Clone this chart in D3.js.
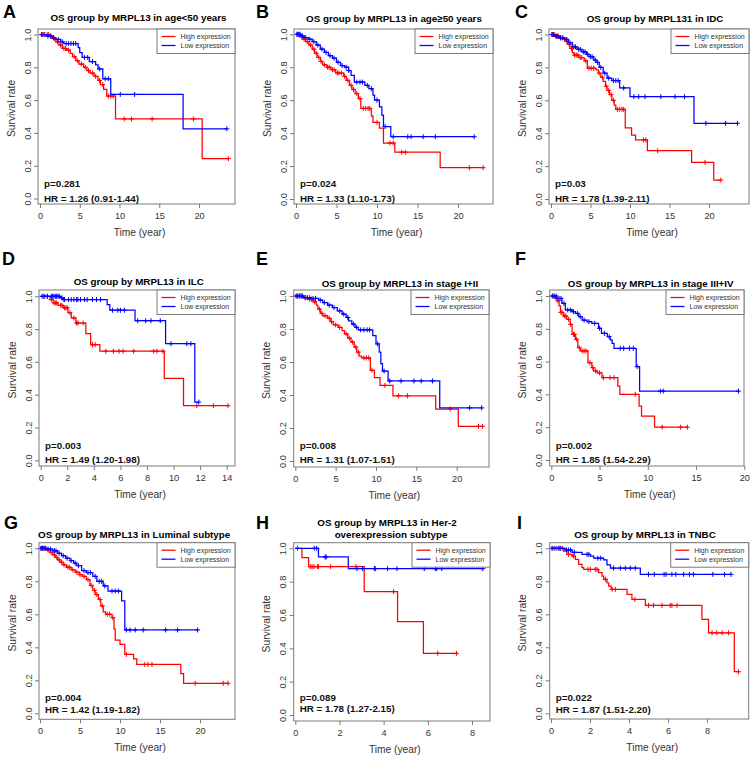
<!DOCTYPE html>
<html><head><meta charset="utf-8">
<script src="https://cdn.jsdelivr.net/npm/d3@7"></script>
<style>
body{margin:0;background:#fff}
svg{display:block}
text{font-family:"Liberation Sans",Arial,Helvetica,sans-serif}
</style>
</head><body>
<svg id="chart" width="753" height="758"></svg>
<script>
// ---------------- DATA ----------------
const panelLetters = ["A","B","C","D","E","F","G","H","I"];
const panelTitles = [
  ["OS group by MRPL13 in age<50 years"],
  ["OS group by MRPL13 in age\u226550 years"],
  ["OS group by MRPL131 in IDC"],
  ["OS group by MRPL13 in ILC"],
  ["OS group by MRPL13 in stage I+II"],
  ["OS group by MRPL13 in stage III+IV"],
  ["OS group by MRPL13 in Luminal subtype"],
  ["OS group by MRPL13 in Her-2","overexpression subtype"],
  ["OS group by MRPL13 in TNBC"]
];
const pLabels = ["p=0.281","p=0.024","p=0.03","p=0.003","p=0.008","p=0.002","p=0.004","p=0.089","p=0.022"];
const hrLabels = ["HR = 1.26 (0.91-1.44)","HR = 1.33 (1.10-1.73)","HR = 1.78 (1.39-2.11)",
  "HR = 1.49 (1.20-1.98)","HR = 1.31 (1.07-1.51)","HR = 1.85 (1.54-2.29)",
  "HR = 1.42 (1.19-1.82)","HR = 1.78 (1.27-2.15)","HR = 1.87 (1.51-2.20)"];
const legendLabels = ["High expression","Low expression"];
const yTickValues = [0,0.2,0.4,0.6,0.8,1.0];
const xTicks20 = [0,5,10,15,20];
const xTicks14 = [0,2,4,6,8,10,12,14];
const xTicks8 = [0,2,4,6,8];
const xAxisTitle = "Time (year)";
const yAxisTitle = "Survival rate";

// Kaplan-Meier steps: [time, survival] ; censor times
const aHighSteps = [[0,1],[1.2,0.99],[1.6,0.975],[2.0,0.955],[2.4,0.935],[2.8,0.915],[3.3,0.905],[3.8,0.885],[4.1,0.865],[4.5,0.84],[4.9,0.82],[5.5,0.80],[5.9,0.78],[6.3,0.765],[6.8,0.745],[7.3,0.72],[7.6,0.695],[8.0,0.665],[8.4,0.625],[9.5,0.485],[20.4,0.243]];
const aHighCens = [0.3,0.6,0.9,1.1,1.4,1.8,2.2,2.6,3.0,3.2,3.6,4.3,4.7,5.2,5.7,6.1,6.6,7.0,7.5,7.9,8.6,8.9,9.2,10.6,11.5,14.1,19.3,23.7];
const aLowSteps = [[0,1],[0.8,0.99],[1.5,0.98],[2.0,0.97],[2.6,0.955],[3.0,0.945],[4.8,0.92],[5.0,0.89],[5.3,0.86],[6.2,0.835],[7.0,0.815],[7.3,0.79],[7.9,0.73],[8.9,0.635],[18.0,0.425]];
const aLowCens = [0.2,0.5,1.0,1.3,1.7,2.3,2.8,3.3,3.6,3.9,4.2,4.5,5.6,6.0,6.6,7.5,8.2,8.6,10.1,11.9,23.5];

const bHighSteps = [[0,1],[0.5,0.985],[0.9,0.97],[1.2,0.955],[1.6,0.935],[2.0,0.91],[2.3,0.885],[2.6,0.86],[3.0,0.835],[3.3,0.815],[3.8,0.80],[4.3,0.785],[4.9,0.765],[5.9,0.745],[6.2,0.72],[6.6,0.69],[6.9,0.665],[7.3,0.64],[7.7,0.61],[8.0,0.55],[9.3,0.505],[9.5,0.465],[10.3,0.43],[10.8,0.34],[12.2,0.284],[17.8,0.19]];
const bHighCens = [0.2,0.4,0.7,1.0,1.4,1.8,2.2,2.5,2.8,3.1,3.5,3.9,4.1,4.5,4.7,5.1,5.3,5.6,6.0,6.4,6.8,7.1,7.5,7.9,8.3,8.6,8.9,9.1,10.0,11.6,12.0,13.05,13.5,21.4,23.1];
const bLowSteps = [[0,1],[0.6,0.99],[1.0,0.98],[1.5,0.97],[2.0,0.955],[2.5,0.935],[3.0,0.91],[3.5,0.89],[4.0,0.87],[4.5,0.855],[5.0,0.83],[5.5,0.81],[6.0,0.80],[6.5,0.78],[6.8,0.75],[7.2,0.71],[8.5,0.69],[9.0,0.67],[9.5,0.63],[9.7,0.60],[10.3,0.56],[10.6,0.51],[10.8,0.44],[11.7,0.378]];
const bLowCens = [0.1,0.3,0.5,0.8,1.2,1.7,2.2,2.7,3.2,3.7,4.2,4.7,5.2,5.7,6.2,6.5,7.5,7.9,8.2,8.8,9.3,10.0,11.0,12.0,13.8,14.2,15.7,17.2,22.0];

const cHighSteps = [[0,1],[0.5,0.99],[1.0,0.98],[1.5,0.97],[1.8,0.96],[2.1,0.94],[2.4,0.915],[2.7,0.89],[2.9,0.875],[3.5,0.86],[4.2,0.84],[4.6,0.795],[5.7,0.785],[6.0,0.765],[6.3,0.74],[6.6,0.715],[6.9,0.685],[7.1,0.66],[7.4,0.635],[7.7,0.60],[8.0,0.57],[8.2,0.545],[9.4,0.433],[10.2,0.389],[10.7,0.359],[12.2,0.294],[17.8,0.223],[20.6,0.115]];
const cHighCens = [0.2,0.4,0.7,0.9,1.2,1.4,1.7,2.0,2.3,2.6,3.0,3.2,3.4,3.7,3.9,4.4,4.8,5.1,5.4,6.1,6.5,7.0,7.3,7.6,7.9,8.4,8.7,9.0,9.2,11.7,12.0,13.5,19.5,21.5];
const cLowSteps = [[0,1],[0.5,0.99],[1.0,0.98],[1.8,0.97],[2.2,0.95],[2.7,0.925],[3.3,0.91],[3.9,0.895],[4.5,0.88],[4.8,0.865],[5.4,0.845],[5.7,0.83],[6.1,0.80],[6.6,0.765],[7.1,0.735],[7.7,0.72],[8.7,0.675],[10.0,0.622],[18.1,0.46]];
const cLowCens = [0.1,0.3,0.6,0.8,1.2,1.5,2.0,2.4,2.9,3.1,3.5,3.7,4.1,4.3,4.6,5.0,5.2,5.6,5.9,6.3,6.8,7.3,7.9,8.2,8.5,9.2,10.5,11.1,11.9,13.9,15.7,16.9,19.6,22.1,23.6];

const dHighSteps = [[0,1],[0.7,0.98],[0.95,0.96],[1.3,0.945],[1.7,0.93],[2.05,0.9],[2.3,0.868],[2.65,0.837],[3.4,0.772],[3.76,0.705],[4.45,0.665],[9.3,0.50],[10.75,0.333]];
const dHighCens = [0.2,0.5,0.8,1.0,1.1,1.2,1.5,1.6,1.8,1.9,2.0,2.2,2.5,2.7,2.8,3.2,3.9,4.1,4.9,5.47,5.9,6.2,7.0,8.5,8.75,9.2,11.75,13.0,14.1];
const dLowSteps = [[0,1],[1.5,0.99],[1.7,0.98],[5.0,0.95],[5.2,0.915],[7.1,0.851],[9.4,0.711],[11.6,0.355]];
const dLowCens = [0.1,0.3,0.5,0.8,0.9,1.0,1.1,1.2,1.3,1.4,1.6,1.75,1.8,2.1,2.3,2.5,2.7,2.8,3.0,3.3,3.5,3.9,4.2,4.5,5.4,5.8,6.0,6.3,7.3,7.9,8.3,9.0,9.8,11.0,11.3,11.9];

const eHighSteps = [[0,1],[1.0,0.99],[1.6,0.98],[2.2,0.965],[2.6,0.945],[2.8,0.92],[3.1,0.895],[3.4,0.88],[4.0,0.865],[4.4,0.845],[4.7,0.825],[5.3,0.81],[5.8,0.79],[6.1,0.77],[6.5,0.745],[6.9,0.72],[7.3,0.69],[7.6,0.66],[7.9,0.635],[8.2,0.625],[9.3,0.55],[9.8,0.505],[10.5,0.458],[12.1,0.395],[17.4,0.315],[20.2,0.21]];
const eHighCens = [0.2,0.5,0.8,1.3,1.8,2.0,2.4,3.0,3.3,3.7,4.2,4.5,5.0,5.5,6.3,6.7,7.1,7.5,7.8,8.5,8.8,9.1,9.5,11.1,12.8,13.9,19.2,22.7,23.2];
const eLowSteps = [[0,1],[1.0,0.99],[2.0,0.985],[2.9,0.975],[3.4,0.96],[4.0,0.945],[4.6,0.93],[5.2,0.91],[5.8,0.89],[6.3,0.87],[6.6,0.85],[7.0,0.83],[7.4,0.81],[7.8,0.795],[9.6,0.76],[10.0,0.71],[10.4,0.66],[10.6,0.59],[10.8,0.545],[11.5,0.485],[17.9,0.322]];
const eLowCens = [0.1,0.3,0.5,0.7,0.9,1.2,1.5,1.8,2.2,2.5,3.1,3.6,4.2,4.8,5.5,6.0,6.5,7.2,7.6,8.1,8.5,8.9,9.2,10.2,11.0,11.7,13.1,14.7,15.6,17.0,21.6,23.1];

const fHighSteps = [[0,1],[0.4,0.985],[0.6,0.97],[0.8,0.94],[0.95,0.9],[1.25,0.878],[1.6,0.858],[1.95,0.827],[2.15,0.766],[2.5,0.736],[2.75,0.685],[3.0,0.665],[3.8,0.593],[4.2,0.563],[4.4,0.543],[4.75,0.532],[5.25,0.502],[6.9,0.451],[7.1,0.40],[9.1,0.329],[9.35,0.268],[10.7,0.20]];
const fHighCens = [0.2,0.5,0.7,1.0,1.1,1.4,1.5,1.8,2.0,2.3,2.4,2.6,2.9,3.2,3.4,3.6,4.0,4.3,4.6,5.0,5.4,6.1,6.5,8.7,11.5,13.4,14.1];
const fLowSteps = [[0,1],[0.6,0.985],[1.1,0.955],[1.45,0.915],[2.15,0.904],[2.5,0.894],[2.85,0.874],[3.2,0.853],[3.7,0.843],[4.2,0.833],[4.9,0.803],[5.2,0.772],[5.8,0.752],[6.1,0.732],[6.3,0.711],[6.5,0.681],[8.8,0.569],[9.15,0.42]];
const fLowCens = [0.1,0.3,0.5,0.8,1.0,1.3,1.7,2.0,2.3,2.7,3.0,3.4,3.9,4.5,5.0,5.5,6.0,7.15,7.5,8.1,8.5,8.9,11.3,11.6,19.4];

const gHighSteps = [[0,1],[0.8,0.99],[1.25,0.975],[1.6,0.96],[1.9,0.945],[2.2,0.93],[2.5,0.915],[2.9,0.9],[3.3,0.885],[3.9,0.87],[4.4,0.855],[4.9,0.84],[5.3,0.83],[5.8,0.81],[6.25,0.775],[6.6,0.745],[6.9,0.72],[7.3,0.69],[7.6,0.65],[7.9,0.615],[8.2,0.60],[9.0,0.58],[9.25,0.51],[9.4,0.444],[10.0,0.418],[10.6,0.357],[11.7,0.33],[12.1,0.296],[17.6,0.24],[17.95,0.182]];
const gHighCens = [0.2,0.4,0.6,1.0,1.4,1.8,2.1,2.4,2.7,3.0,3.5,3.7,4.1,4.6,5.0,5.5,6.0,6.4,6.8,7.1,7.5,7.8,8.4,8.7,9.1,10.8,13.1,13.5,14.0,19.4,22.9,23.5];
const gLowSteps = [[0,1],[0.8,0.995],[1.6,0.985],[2.2,0.97],[2.7,0.955],[3.2,0.94],[3.75,0.925],[4.2,0.91],[4.6,0.895],[5.2,0.865],[5.8,0.853],[6.6,0.83],[7.1,0.80],[7.9,0.772],[8.5,0.741],[10.2,0.681],[10.6,0.505]];
const gLowCens = [0.1,0.3,0.5,0.7,1.0,1.3,1.8,2.0,2.4,2.9,3.4,3.9,4.4,4.8,5.5,6.0,6.3,6.9,7.4,7.7,8.1,9.0,9.4,9.8,10.8,11.25,11.9,12.9,15.7,17.2,19.7];

const hHighSteps = [[0,1],[0.3,0.944],[0.6,0.89],[3.12,0.74],[4.63,0.56],[5.8,0.37]];
const hHighCens = [0.1,0.68,0.76,0.85,1.0,1.05,1.6,2.75,4.45,6.45,7.3];
const hLowSteps = [[0,1],[1.05,0.948],[2.4,0.878]];
const hLowCens = [0.86,0.97,1.35,1.4,2.79,3.05,3.58,3.62,4.18,4.6,5.84,6.34,6.4,6.63,8.49];

const iHighSteps = [[0,1],[0.65,0.983],[0.82,0.963],[1.08,0.953],[1.25,0.933],[1.42,0.903],[1.59,0.883],[1.68,0.872],[2.44,0.852],[2.62,0.832],[2.7,0.812],[2.87,0.791],[2.96,0.771],[3.08,0.751],[3.9,0.721],[4.15,0.69],[4.84,0.654],[7.74,0.57],[8.08,0.488],[9.4,0.252]];
const iHighCens = [0.1,0.3,0.45,0.6,0.9,1.15,1.9,2.02,2.27,2.36,2.79,3.14,3.3,4.3,5.0,5.26,5.69,6.11,6.2,6.46,8.26,8.5,8.77,9.1,9.62];
const iLowSteps = [[0,1],[0.73,0.99],[1.08,0.976],[1.59,0.963],[2.02,0.952],[2.19,0.94],[2.7,0.93],[2.87,0.90],[3.05,0.88],[4.58,0.842]];
const iLowCens = [0.05,0.2,0.4,0.5,0.8,0.9,1.0,1.2,1.85,1.94,2.4,2.55,3.21,3.56,3.81,4.07,4.32,5.0,5.3,5.8,5.9,6.2,6.4,6.8,7.1,7.3,8.3,8.9,9.23];

const highSeries = [[aHighSteps,aHighCens],[bHighSteps,bHighCens],[cHighSteps,cHighCens],[dHighSteps,dHighCens],[eHighSteps,eHighCens],[fHighSteps,fHighCens],[gHighSteps,gHighCens],[hHighSteps,hHighCens],[iHighSteps,iHighCens]];
const lowSeries = [[aLowSteps,aLowCens],[bLowSteps,bLowCens],[cLowSteps,cLowCens],[dLowSteps,dLowCens],[eLowSteps,eLowCens],[fLowSteps,fLowCens],[gLowSteps,gLowCens],[hLowSteps,hLowCens],[iLowSteps,iLowCens]];
const panelXTicks = [xTicks20,xTicks20,xTicks20,xTicks14,xTicks20,xTicks20,xTicks20,xTicks8,xTicks8];

// ---------------- LAYOUT (pixel geometry per panel) ----------------
// box: l,r,t,b ; xr: [refValue, px at 0, px at refValue]; yr: [px at 0, px at 1]
const layout = [
  {l:38,r:235,t:29,b:204, xr:[20,40,199], yr:[198.5,34.5], letter:[3,18], title:[138.5,20.5], p:[186.8,202.2]},
  {l:294,r:493,t:29,b:204, xr:[20,296,458], yr:[199,34.3], letter:[256,18], title:[394,22], p:[186.5,202.2]},
  {l:549,r:749,t:29,b:204, xr:[20,551,709], yr:[199,34.5], letter:[515,18], title:[655,22], p:[186.5,202.2]},
  {l:39,r:235,t:290,b:466, xr:[14,40.7,226.7], yr:[460.3,296.3], letter:[2,265], title:[138.7,285], p:[449.2,462.5]},
  {l:293.7,r:489,t:290,b:467, xr:[20,295.3,456.7], yr:[461,296], letter:[256,265], title:[400,287], p:[448.8,463.2]},
  {l:549.7,r:744,t:290,b:466, xr:[20,551.3,744.3], yr:[460,296], letter:[515,265], title:[650.7,287], p:[448.8,463.2]},
  {l:39,r:235,t:542.7,b:719.3, xr:[20,40,200], yr:[713.3,548.3], letter:[4,529], title:[134.2,538], p:[701.2,712.8]},
  {l:293.7,r:490,t:542.7,b:721, xr:[8,295.3,472], yr:[715,548.3], letter:[256,529], title:[387,526], p:[701.2,712.2]},
  {l:549.7,r:748.7,t:542.7,b:719, xr:[8,551,707], yr:[713.3,548.3], letter:[517,529], title:[645,538], p:[701.2,712.8]}
];

const RED = "#ff0000", BLUE = "#0000ff", AXIS = "#7a7a7a", TXT = "#333333";

const svg = d3.select("#chart");
svg.append("rect").attr("width",753).attr("height",758).attr("fill","#fff");

function survAt(steps, t){
  let s = 1;
  for (const [st, sv] of steps){ if (st <= t) s = sv; else break; }
  return s;
}

layout.forEach((L, i) => {
  const g = svg.append("g");
  const x = d3.scaleLinear().domain([0, L.xr[0]]).range([L.xr[1], L.xr[2]]);
  const y = d3.scaleLinear().domain([0, 1]).range([L.yr[0], L.yr[1]]);

  // letter
  g.append("text").attr("x", L.letter[0]).attr("y", L.letter[1])
    .attr("font-size", 18).attr("font-weight", "bold").attr("fill", "#000")
    .text(panelLetters[i]);

  // title
  const tl = panelTitles[i];
  tl.forEach((line, k) => {
    g.append("text").attr("x", L.title[0] + (tl.length > 1 && k === 1 ? 4 : 0))
      .attr("y", L.title[1] + k * 12)
      .attr("text-anchor", "middle").attr("font-size", 9.8).attr("font-weight", "bold")
      .attr("fill", "#000").text(line);
  });

  // curves
  const line = d3.line().x(d => x(d[0])).y(d => y(d[1])).curve(d3.curveStepAfter);
  [[highSeries[i], RED], [lowSeries[i], BLUE]].forEach(([ser, col]) => {
    const steps = ser[0], cens = ser[1];
    const end = Math.max(d3.max(cens), steps[steps.length - 1][0]);
    const pts = steps.concat([[end, steps[steps.length - 1][1]]]);
    g.append("path").attr("d", line(pts)).attr("fill", "none")
      .attr("stroke", col).attr("stroke-width", 1.25);
    const cp = d3.path();
    cens.forEach(c => {
      const cx = x(c), cy = y(survAt(steps, c));
      cp.moveTo(cx - 2.5, cy); cp.lineTo(cx + 2.5, cy);
      cp.moveTo(cx, cy - 2.5); cp.lineTo(cx, cy + 2.5);
    });
    g.append("path").attr("d", cp.toString()).attr("fill", "none")
      .attr("stroke", col).attr("stroke-width", 1);
  });

  // box
  g.append("rect").attr("x", L.l).attr("y", L.t).attr("width", L.r - L.l).attr("height", L.b - L.t)
    .attr("fill", "none").attr("stroke", AXIS).attr("stroke-width", 1);

  // x axis
  const xa = g.append("g").attr("transform", `translate(0,${L.b})`)
    .call(d3.axisBottom(x).tickValues(panelXTicks[i]).tickSize(4).tickFormat(d3.format("d")));
  xa.select(".domain").remove();
  xa.selectAll("line").attr("stroke", AXIS);
  xa.selectAll("text").attr("fill", TXT).attr("font-size", 9.2)
    .attr("font-family", '"Liberation Sans",Arial,sans-serif').attr("dy", null).attr("y", 15);

  // y axis
  const ya = g.append("g").attr("transform", `translate(${L.l},0)`)
    .call(d3.axisLeft(y).tickValues(yTickValues).tickSize(4).tickFormat(d3.format(".1f")));
  ya.select(".domain").remove();
  ya.selectAll("line").attr("stroke", AXIS);
  ya.selectAll("text").attr("fill", TXT).attr("font-size", 9.2)
    .attr("font-family", '"Liberation Sans",Arial,sans-serif')
    .attr("transform", "rotate(-90)").attr("text-anchor", "middle")
    .attr("x", 0).attr("dy", null).attr("y", -7.3);

  // axis titles
  g.append("text").attr("x", (L.l + L.r) / 2 + 3).attr("y", L.b + 32)
    .attr("text-anchor", "middle").attr("font-size", 10.2).attr("fill", TXT).text(xAxisTitle);
  const yc = (L.t + L.b) / 2 - 8;
  g.append("text").attr("transform", `translate(${L.l - 23.5},${yc}) rotate(-90)`)
    .attr("text-anchor", "middle").attr("font-size", 10.3).attr("fill", TXT).text(yAxisTitle);

  // p and HR
  g.append("text").attr("x", L.l + 6).attr("y", L.p[0]).attr("font-size", 9.8)
    .attr("font-weight", "bold").attr("fill", "#111").text(pLabels[i]);
  g.append("text").attr("x", L.l + 6).attr("y", L.p[1]).attr("font-size", 9.8)
    .attr("font-weight", "bold").attr("fill", "#111").text(hrLabels[i]);

  // legend
  const lw = 78, lh = 24.5, lx = L.r - lw, ly = L.t;
  g.append("rect").attr("x", lx).attr("y", ly).attr("width", lw).attr("height", lh)
    .attr("fill", "#fff").attr("stroke", AXIS).attr("stroke-width", 1);
  [RED, BLUE].forEach((col, k) => {
    const yy = ly + 7.5 + k * 9;
    g.append("line").attr("x1", lx + 4.5).attr("x2", lx + 18.5).attr("y1", yy).attr("y2", yy)
      .attr("stroke", col).attr("stroke-width", 1.25);
    g.append("text").attr("x", lx + 23.5).attr("y", yy + 2.5).attr("font-size", 7)
      .attr("fill", TXT).text(legendLabels[k]);
  });
});
</script>
</body></html>
